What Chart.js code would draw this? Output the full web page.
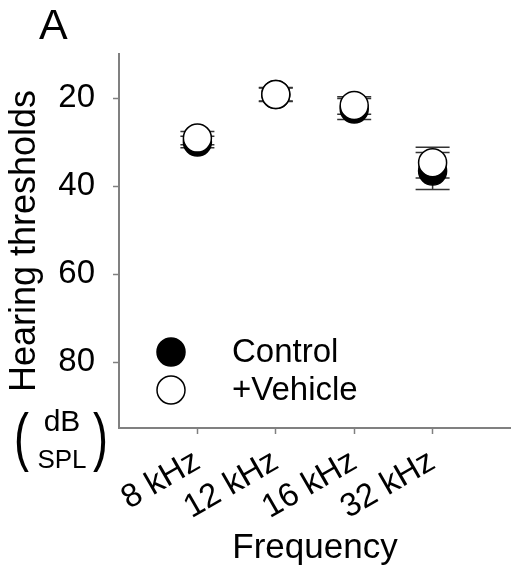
<!DOCTYPE html>
<html>
<head>
<meta charset="utf-8">
<script src="https://cdn.jsdelivr.net/npm/chart.js@4.4.1/dist/chart.umd.min.js"></script>
<style>
  body { margin: 0; background: #fff; }
  #wrap { width: 511px; height: 575px; }
</style>
</head>
<body>
<div id="wrap"><canvas id="chart" width="511" height="575"></canvas></div>
<script>
// values (dB SPL)
const categories = ['8 kHz', '12 kHz', '16 kHz', '32 kHz'];
const xPositions = [1, 2, 3, 4];
const controlMean = [30.0, 19.2, 22.5, 36.6];
const controlErr = [1.3, 1.5, 2.4, 4.2];
const vehicleMean = [29.1, 19.2, 21.7, 34.7];
const vehicleErr = [1.5, 1.6, 2.0, 3.5];
const yTicks = [20, 40, 60, 80];

const FONT = "'Liberation Sans', Arial, sans-serif";

const toPoints = (means) => means.map((m, i) => ({ x: xPositions[i], y: m }));

// vertical error bars with caps, drawn under the markers
const errorBars = {
    id: 'errorBars',
    beforeDatasetsDraw(chart) {
        const ctx = chart.ctx;
        const xs = chart.scales.x, ys = chart.scales.y;
        ctx.save();
        chart.data.datasets.forEach((ds) => {
            ds.data.forEach((p, i) => {
                const px = xs.getPixelForValue(p.x);
                const top = ys.getPixelForValue(p.y - ds.errors[i]);
                const bot = ys.getPixelForValue(p.y + ds.errors[i]);
                ctx.strokeStyle = '#333';
                ctx.lineWidth = 1.5;
                ctx.beginPath();
                ctx.moveTo(px, top); ctx.lineTo(px, bot);
                ctx.moveTo(px - 17, top); ctx.lineTo(px + 17, top);
                ctx.moveTo(px - 17, bot); ctx.lineTo(px + 17, bot);
                ctx.stroke();
            });
        });
        ctx.restore();
    }
};

// legend inside plot, panel letter, unit label
const extras = {
    id: 'extras',
    afterDraw(chart) {
        const ctx = chart.ctx;
        const a = chart.chartArea;
        ctx.save();
        // legend
        const rows = [chart.data.datasets[1], chart.data.datasets[0]];
        rows.forEach((ds, k) => {
            const cy = a.bottom - 76 + k * 38;
            const cx = a.left + 52;
            ctx.beginPath();
            ctx.arc(cx, cy, 14, 0, Math.PI * 2);
            ctx.fillStyle = ds.backgroundColor;
            ctx.fill();
            ctx.lineWidth = 1.5;
            ctx.strokeStyle = '#000';
            ctx.stroke();
            ctx.fillStyle = '#000';
            ctx.font = '33px ' + FONT;
            ctx.textAlign = 'left';
            ctx.textBaseline = 'middle';
            ctx.fillText(ds.label, a.left + 113, cy + 1);
        });
        // panel letter
        ctx.font = '43px ' + FONT;
        ctx.textBaseline = 'alphabetic';
        ctx.fillText('A', 39, 39);
        // (dB / SPL)
        ctx.textAlign = 'center';
        ctx.font = '30px ' + FONT;
        ctx.fillText('dB', 62, 431);
        ctx.font = '26px ' + FONT;
        ctx.fillText('SPL', 62, 468);
        ctx.font = '64px ' + FONT;
        ctx.save();
        ctx.scale(0.7, 1);
        ctx.fillText('(', 21.5 / 0.7, 459);
        ctx.fillText(')', 100.5 / 0.7, 459);
        ctx.restore();
        ctx.restore();
    }
};

const config = {
    type: 'scatter',
    data: {
        datasets: [
            {
                label: '+Vehicle',
                data: toPoints(vehicleMean),
                errors: vehicleErr,
                backgroundColor: '#fff',
                borderColor: '#000',
                borderWidth: 1.5,
                pointRadius: 14,
                pointHoverRadius: 14,
                clip: false,
                order: 0
            },
            {
                label: 'Control',
                data: toPoints(controlMean),
                errors: controlErr,
                backgroundColor: '#000',
                borderColor: '#000',
                borderWidth: 1.5,
                pointRadius: 14,
                pointHoverRadius: 14,
                clip: false,
                order: 1
            }
        ]
    },
    options: {
        responsive: false,
        animation: false,
        events: [],
        layout: { autoPadding: false, padding: { top: 54, left: 0, right: 0, bottom: 0 } },
        plugins: { legend: { display: false }, tooltip: { enabled: false } },
        scales: {
            x: {
                type: 'linear',
                min: 0,
                max: 5,
                afterBuildTicks: (s) => { s.ticks = xPositions.map((v) => ({ value: v })); },
                afterFit: (s) => { s.height = 147; s.paddingLeft = 0; s.paddingRight = 0; },
                border: { color: '#808080', width: 2 },
                grid: { drawOnChartArea: false, tickLength: 6, color: '#808080', tickWidth: 1.5 },
                ticks: {
                    minRotation: 30,
                    maxRotation: 30,
                    padding: 8,
                    color: '#000',
                    font: { family: FONT, size: 33 },
                    callback: (v) => categories[xPositions.indexOf(v)]
                },
                title: {
                    display: true,
                    text: 'Frequency',
                    color: '#000',
                    font: { family: FONT, size: 35 },
                    padding: { top: 0, bottom: 6 }
                }
            },
            y: {
                reverse: true,
                min: 10,
                max: 95,
                afterBuildTicks: (s) => { s.ticks = yTicks.map((v) => ({ value: v })); },
                afterFit: (s) => { s.width = 119; s.paddingTop = 0; s.paddingBottom = 0; },
                border: { color: '#808080', width: 2 },
                grid: { drawOnChartArea: false, tickLength: 6, color: '#808080', tickWidth: 1.5 },
                ticks: {
                    padding: 18,
                    color: '#000',
                    font: { family: FONT, size: 33 }
                },
                title: {
                    display: true,
                    text: 'Hearing thresholds',
                    color: '#000',
                    font: { family: FONT, size: 36 },
                    padding: { top: 3, bottom: 0 }
                }
            }
        }
    },
    plugins: [errorBars, extras]
};

const chart = new Chart(document.getElementById('chart').getContext('2d'), config);
</script>
</body>
</html>
